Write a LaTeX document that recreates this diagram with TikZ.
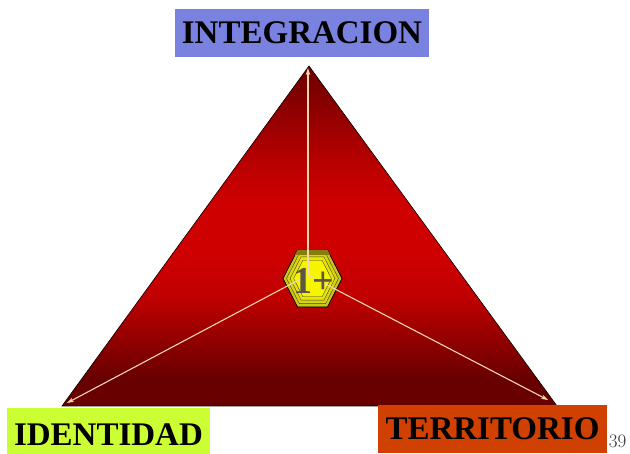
\documentclass[tikz,border=0pt]{standalone}
\usepackage{amsmath, amssymb}
\usepackage{fontspec}
\usepackage{tikz}
\usetikzlibrary{arrows.meta}
\newfontfamily\bandfont{Liberation Serif}
\definecolor{blueband}{RGB}{122,130,224}
\definecolor{limeband}{RGB}{204,255,51}
\definecolor{orangeband}{RGB}{208,64,0}
\definecolor{cream}{RGB}{245,215,175}
\definecolor{darkred}{RGB}{104,0,0}
\definecolor{midred}{RGB}{206,0,0}
\definecolor{hexyellow}{RGB}{245,245,0}
\definecolor{hexolive}{RGB}{205,200,15}
\definecolor{hexdark}{RGB}{135,125,10}
\definecolor{onegrey}{RGB}{95,85,70}
\pgfdeclareverticalshading{redband}{100bp}{
    color(0bp)=(darkred); color(29bp)=(darkred); color(41bp)=(red!75!black);
    color(47bp)=(midred); color(55bp)=(midred); color(61bp)=(red!72!black); color(75bp)=(red!42!black); color(100bp)=(red!42!black)}
\tikzset{
    band/.style={inner sep=0pt, font=\bandfont\fontsize{33}{33}\selectfont\bfseries, text=black},
    spoke/.style={draw=cream, line width=1.1pt, -{Stealth[length=7pt,width=4.5pt]}},
    hexline/.style={draw=black!75, line width=0.4pt}}

\begin{document}
\begin{tikzpicture}[x=1pt,y=1pt]
        \useasboundingbox (0,0) rectangle (630,454);

        \coordinate (A) at (309,388);
        \coordinate (B) at (62,48);
        \coordinate (D) at (557,48);
        \coordinate (H) at (312.5,175.5);
        \coordinate (C) at (308,179);
        \coordinate (a) at (308,386);
        \coordinate (b) at (67,51);
        \coordinate (d) at (548,54);

        % triangle
        \shade[shading=redband] (A) -- (B) -- (D) -- cycle;
        \draw[black, line width=0.6pt] (A) -- (B) -- (D) -- cycle;

        % hexagon
        \foreach \s/\c in {1/hexolive, 0.88/hexolive!70!hexyellow, 0.76/hexolive!35!hexyellow, 0.64/hexyellow}
            \draw[hexline, fill=\c, shift={(H)}, scale=\s] (-29.5,0) -- (-15,28.5) -- (15,28.5) -- (29.5,0) -- (15,-28.5) -- (-15,-28.5) -- cycle;
        \draw[black, line width=0.7pt, shift={(H)}] (-29.5,0) -- (-15,28.5) -- (15,28.5) -- (29.5,0) -- (15,-28.5) -- (-15,-28.5) -- cycle;
        \fill[hexdark] (297.5,204) -- (327.5,204) -- (330,199) -- (295,199) -- cycle;

        % spokes
        \draw[spoke] (C) -- (a);
        \draw[spoke] (C) -- (b);
        \draw[spoke] (C) -- (d);

        \node[text=onegrey, font=\bandfont\fontsize{38}{38}\selectfont\bfseries, inner sep=0pt] (T) at (314,173.5) {1+};

        % labels
        \node[fill=blueband, band, minimum width=254pt, minimum height=48pt] (I) at (302,421) {INTEGRACION};
        \node[fill=limeband, band, text height=30pt, text depth=0pt, minimum width=203pt, minimum height=46pt] (E) at (108.5,23) {IDENTIDAD};
        \node[fill=orangeband, band, minimum width=229pt, minimum height=48pt] (R) at (492.5,25) {TERRITORIO};
        \node[text=black!80, font=\fontsize{19}{19}\selectfont, inner sep=0pt] (P) at (617.5,13) {39};

\end{tikzpicture}
\end{document}
